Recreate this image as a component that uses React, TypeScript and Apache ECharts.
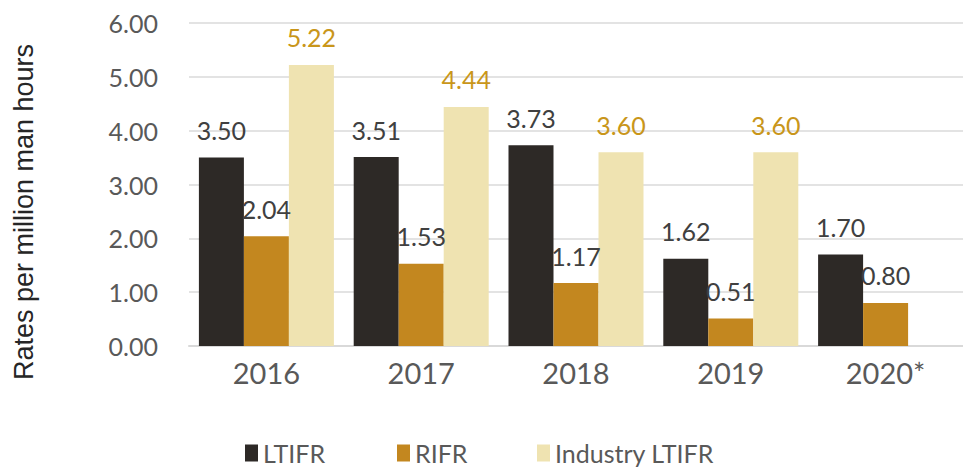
import React, { useEffect, useRef } from "react";
import * as echarts from "echarts";

const categories = ["2016", "2017", "2018", "2019", "2020*"];
const ltifr = [3.5, 3.51, 3.73, 1.62, 1.7];
const rifr = [2.04, 1.53, 1.17, 0.51, 0.8];
const industry = [5.22, 4.44, 3.6, 3.6, null];
const yTitle = "Rates per million man hours";

const FONT = "Lato";
const GREY = "#595959";

export default function App() {
  const ref = useRef<HTMLDivElement>(null);
  useEffect(() => {
    if (!ref.current) return;
    const chart = echarts.init(ref.current, null, { renderer: "svg" });
    const label = (color: string) => ({
      show: true,
      position: "top",
      distance: 15,
      color,
      fontFamily: FONT,
      fontSize: 25,
      formatter: (p: any) => (p.value == null ? "" : Number(p.value).toFixed(2)),
    });
    const legendBase = {
      top: 440,
      padding: 0,
      itemWidth: 13,
      itemHeight: 17,
      icon: "rect",
      itemGap: 6,
      textStyle: { fontFamily: FONT, fontSize: 25, lineHeight: 26, color: GREY },
    };
    chart.setOption({
      animation: false,
      backgroundColor: "#ffffff",
      grid: { left: 189, right: -11, top: 23, bottom: 123, containLabel: false },
      xAxis: {
        type: "category",
        data: categories,
        axisTick: { show: false },
        axisLine: { lineStyle: { color: "#d9d9d9", width: 2 } },
        axisLabel: { fontFamily: FONT, fontSize: 29, color: GREY, margin: 12 },
      },
      yAxis: {
        type: "value",
        min: 0,
        max: 6,
        interval: 1,
        axisLabel: {
          fontFamily: FONT,
          fontSize: 25,
          color: GREY,
          margin: 31,
          formatter: (v: number) => v.toFixed(2),
        },
        splitLine: { lineStyle: { color: "#e3e3e3", width: 2 } },
        axisLine: { show: false },
        axisTick: { show: false },
      },
      legend: [
        { ...legendBase, left: 245, data: ["LTIFR"] },
        { ...legendBase, left: 397, data: ["RIFR"] },
        { ...legendBase, left: 537, data: ["Industry LTIFR"] },
      ],
      graphic: [
        {
          type: "text",
          x: 24,
          y: 212,
          rotation: Math.PI / 2,
          style: {
            text: yTitle,
            fontFamily: "Liberation Sans",
            fontSize: 27,
            fill: "#262626",
            textAlign: "center",
            textVerticalAlign: "middle",
          },
        },
      ],
      series: [
        {
          name: "LTIFR",
          type: "bar",
          data: ltifr,
          barWidth: 45,
          barGap: "0%",
          itemStyle: { color: "#2d2926" },
          label: label("#404040"),
        },
        {
          name: "RIFR",
          type: "bar",
          data: rifr,
          barWidth: 45,
          barGap: "0%",
          itemStyle: { color: "#c3871f" },
          label: label("#404040"),
        },
        {
          name: "Industry LTIFR",
          type: "bar",
          data: industry,
          barWidth: 45,
          barGap: "0%",
          itemStyle: { color: "#efe3b1" },
          label: label("#c9961a"),
        },
      ],
    });
    return () => chart.dispose();
  }, []);
  return (
    <div
      ref={ref}
      style={{ position: "fixed", left: 0, top: 0, width: 963, height: 469 }}
    />
  );
}
